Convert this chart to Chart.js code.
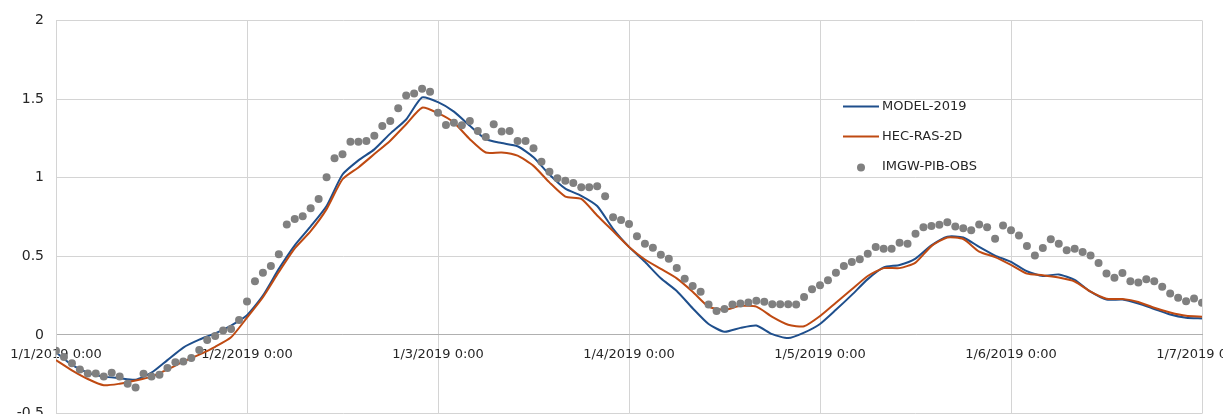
<!DOCTYPE html>
<html>
<head>
<meta charset="utf-8">
<script src="https://cdn.jsdelivr.net/npm/chart.js@4/dist/chart.umd.min.js"></script>
<style>
  html, body { margin: 0; padding: 0; background: #fff; overflow: hidden; }
  #wrap { width: 1223px; height: 414px; overflow: hidden; position: relative; }
  canvas { display: block; }
</style>
</head>
<body>
<div id="wrap"><canvas id="chart" width="1223" height="434"></canvas></div>
<script>
// Day labels along the time axis (one every 24 hours)
const dayLabels = ['1/1/2019 0:00', '1/2/2019 0:00', '1/3/2019 0:00', '1/4/2019 0:00',
                   '1/5/2019 0:00', '1/6/2019 0:00', '1/7/2019 0:00'];

// Water level axis ticks
const levelTicks = [-0.5, 0, 0.5, 1, 1.5, 2];

// Modelled series, one value every 2 hours from 1/1/2019 0:00
const modelStepHours = 2;
const model2019 = [
  -0.11, -0.19, -0.24, -0.265, -0.275, -0.285, -0.24, -0.16, -0.08, -0.03, 0.01, 0.06,
  0.125, 0.25, 0.42, 0.57, 0.69, 0.82, 1.02, 1.11, 1.18, 1.28, 1.37, 1.51,
  1.48, 1.42, 1.33, 1.245, 1.22, 1.2, 1.13, 1.02, 0.93, 0.885, 0.82, 0.675,
  0.56, 0.465, 0.36, 0.28, 0.17, 0.07, 0.02, 0.045, 0.06, 0.005, -0.02, 0.015,
  0.07, 0.16, 0.255, 0.355, 0.43, 0.445, 0.485, 0.57, 0.625, 0.62, 0.56, 0.505,
  0.465, 0.405, 0.375, 0.385, 0.35, 0.275, 0.225, 0.225, 0.2, 0.165, 0.13, 0.11,
  0.105
];
const hecRas2d = [
  -0.16, -0.225, -0.28, -0.32, -0.31, -0.29, -0.265, -0.22, -0.17, -0.125, -0.075, -0.015,
  0.11, 0.24, 0.40, 0.55, 0.66, 0.80, 0.99, 1.065, 1.15, 1.235, 1.34, 1.445,
  1.41, 1.35, 1.245, 1.16, 1.16, 1.14, 1.075, 0.97, 0.88, 0.865, 0.76, 0.66,
  0.56, 0.48, 0.42, 0.36, 0.275, 0.18, 0.16, 0.185, 0.18, 0.115, 0.065, 0.055,
  0.12, 0.205, 0.29, 0.375, 0.425, 0.425, 0.46, 0.565, 0.62, 0.61, 0.53, 0.495,
  0.445, 0.39, 0.38, 0.365, 0.34, 0.275, 0.23, 0.228, 0.21, 0.173, 0.143, 0.122,
  0.116
];

// Hourly gauge observations from 1/1/2019 0:00
const obsStepHours = 1;
const imgwObs = [
  -0.10, -0.14, -0.18, -0.22, -0.245, -0.245, -0.264, -0.24, -0.264, -0.31, -0.334, -0.247,
  -0.264, -0.253, -0.21, -0.173, -0.169, -0.146, -0.095, -0.032, -0.006, 0.028, 0.038, 0.095,
  0.212, 0.342, 0.396, 0.439, 0.513, 0.702, 0.738, 0.755, 0.806, 0.865, 1.002, 1.124,
  1.149, 1.228, 1.228, 1.234, 1.266, 1.329, 1.361, 1.441, 1.523, 1.535, 1.565, 1.546,
  1.413, 1.335, 1.35, 1.333, 1.361, 1.297, 1.259, 1.339, 1.293, 1.297, 1.234, 1.234,
  1.187, 1.101, 1.038, 0.996, 0.981, 0.966, 0.939, 0.939, 0.945, 0.882, 0.749, 0.731,
  0.706, 0.628, 0.58, 0.555, 0.51, 0.485, 0.426, 0.358, 0.312, 0.274, 0.194, 0.152,
  0.165, 0.194, 0.2, 0.206, 0.217, 0.211, 0.196, 0.196, 0.196, 0.194, 0.242, 0.291,
  0.316, 0.348, 0.396, 0.439, 0.464, 0.481, 0.516, 0.559, 0.548, 0.548, 0.586, 0.58,
  0.643, 0.685, 0.692, 0.70, 0.717, 0.69, 0.679, 0.665, 0.703, 0.685, 0.611, 0.696,
  0.665, 0.633, 0.565, 0.506, 0.553, 0.608, 0.58, 0.538, 0.548, 0.527, 0.506, 0.458,
  0.39, 0.363, 0.394, 0.342, 0.333, 0.354, 0.342, 0.306, 0.263, 0.236, 0.215, 0.232,
  0.204
];

const toPoints = (values, step) => values.map((v, i) => ({ x: i * step, y: v }));

const FONT = '"DejaVu Sans", sans-serif';
const GRID = '#d4d4d4';

// Legend drawn inside the plot area, right of centre
const insideLegend = {
  id: 'insideLegend',
  afterDraw(chart) {
    const { ctx, chartArea: a } = chart;
    const x0 = a.left + 787;
    const y0 = a.top + 86;
    const rowGap = 30;
    ctx.save();
    ctx.font = '13px ' + FONT;
    ctx.textBaseline = 'middle';
    ctx.textAlign = 'left';
    chart.data.datasets.forEach((ds, i) => {
      const y = y0 + i * rowGap;
      if (ds.showLine === false) {
        ctx.fillStyle = ds.pointBackgroundColor;
        ctx.beginPath();
        ctx.arc(x0 + 18, y + 1, 4, 0, Math.PI * 2);
        ctx.fill();
      } else {
        ctx.strokeStyle = ds.borderColor;
        ctx.lineWidth = 2;
        ctx.beginPath();
        ctx.moveTo(x0, y);
        ctx.lineTo(x0 + 36, y);
        ctx.stroke();
      }
      ctx.fillStyle = '#262626';
      ctx.fillText(ds.label, x0 + 39, y);
    });
    ctx.restore();
  }
};

new Chart(document.getElementById('chart'), {
  type: 'line',
  data: {
    datasets: [
      {
        label: 'MODEL-2019',
        data: toPoints(model2019, modelStepHours),
        borderColor: '#1f4f8c',
        borderWidth: 2,
        pointRadius: 0,
        tension: 0.2,
        fill: false,
        order: 2
      },
      {
        label: 'HEC-RAS-2D',
        data: toPoints(hecRas2d, modelStepHours),
        borderColor: '#bf4a12',
        borderWidth: 2,
        pointRadius: 0,
        tension: 0.2,
        fill: false,
        order: 1
      },
      {
        label: 'IMGW-PIB-OBS',
        data: toPoints(imgwObs, obsStepHours),
        showLine: false,
        pointRadius: 4,
        pointBorderWidth: 0,
        pointBackgroundColor: '#808080',
        pointBorderColor: '#808080',
        order: 0
      }
    ]
  },
  options: {
    responsive: false,
    animation: false,
    devicePixelRatio: 1,
    layout: { padding: { top: 10, right: 21, bottom: 0, left: 0 } },
    plugins: { legend: { display: false }, tooltip: { enabled: false } },
    scales: {
      x: {
        type: 'linear',
        axis: 'x',
        position: { y: 0 },
        min: 0,
        max: 144,
        afterBuildTicks(scale) {
          scale.ticks = dayLabels.map((_, i) => ({ value: i * 24 }));
        },
        afterFit(scale) {
          // the axis sits inside the plot, so it must not claim any margin
          scale.paddingLeft = 0;
          scale.paddingRight = 0;
          scale.paddingTop = 0;
          scale.paddingBottom = 0;
          scale.height = 0;
        },
        ticks: {
          autoSkip: false,
          maxRotation: 0,
          padding: 12,
          color: '#262626',
          font: { family: FONT, size: 13 },
          callback: (v) => dayLabels[Math.round(v / 24)]
        },
        grid: { color: GRID, lineWidth: 1, drawTicks: false },
        border: { color: '#b0b0b0', width: 1 }
      },
      y: {
        min: -0.5,
        max: 2,
        afterBuildTicks(scale) {
          scale.ticks = levelTicks.map(v => ({ value: v }));
        },
        afterFit(scale) { scale.width = 56; },
        ticks: {
          padding: 12,
          color: '#262626',
          font: { family: FONT, size: 14 },
          callback: (v) => String(v)
        },
        grid: { color: GRID, lineWidth: 1, drawTicks: false },
        border: { color: GRID, width: 1 }
      }
    }
  },
  plugins: [insideLegend]
});
</script>
</body>
</html>
